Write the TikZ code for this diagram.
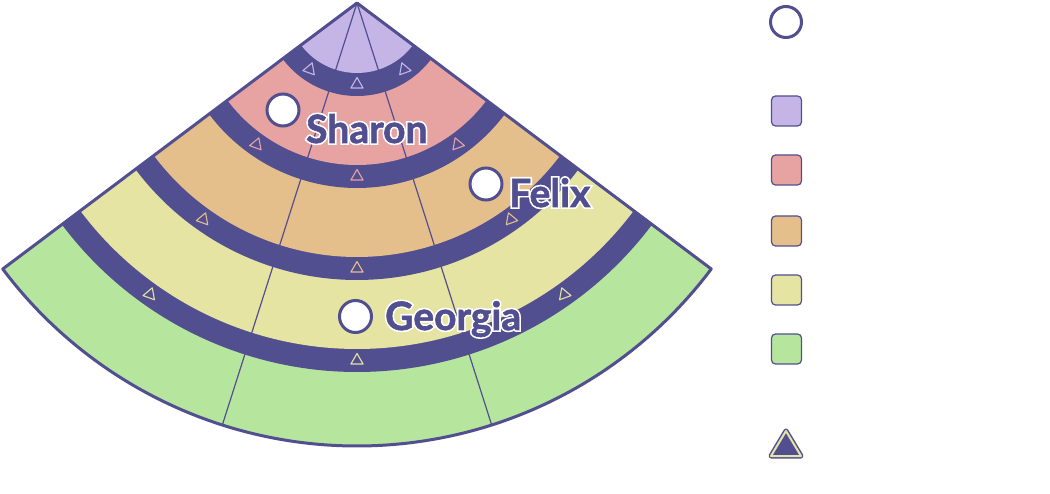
\documentclass[tikz,border=0pt]{standalone}
\usepackage{fontspec}
\setmainfont{Lato}
\newfontfamily\whoink{Lato}[BoldFeatures={FakeBold=1.5}]
\newfontfamily\whohalo{Lato}[BoldFeatures={FakeBold=10}]
\usepackage{tikz}
\usetikzlibrary{calc, positioning}
\definecolor{ink}{RGB}{82, 79, 145}
\definecolor{zoneA}{RGB}{197, 180, 230}
\definecolor{zoneB}{RGB}{230, 163, 162}
\definecolor{zoneC}{RGB}{229, 191, 139}
\definecolor{zoneD}{RGB}{229, 228, 163}
\definecolor{zoneE}{RGB}{182, 230, 158}

\tikzset{
  seat/.style={circle, draw=ink, line width=3pt, fill=white, minimum size=32pt, inner sep=0pt},
  who/.style={anchor=base west, inner sep=0pt, font=\fontsize{39}{41}\selectfont\bfseries},
  keybox/.style={draw=ink, line width=1.2pt, rounded corners=4pt, minimum size=30pt, inner sep=0pt},
  door/.style={line width=1.1pt, line join=round}
}
% white halo under the name
\newcommand{\whotext}[1]{{\whohalo\bfseries\color{white}\rlap{#1}}{\whoink\bfseries\color{ink}#1}}

\begin{document}
\begin{tikzpicture}[x=1pt, y=1pt]
  \useasboundingbox (0,0) rectangle (1050,493);
  \coordinate (apex) at (357,490);
  % zones, outermost first (rings are the dark slices)
  \foreach \r/\c in {443/zoneE, 369/ink, 346/zoneD, 277/ink, 254/zoneC, 185/ink, 162/zoneB, 93/ink, 70/zoneA}
    \fill[\c] (apex) -- ($(apex)+(-143.1:\r)$) arc[start angle=-143.1, end angle=-36.9, radius=\r] -- cycle;
  % dividers
  \draw[ink, line width=1.2pt] (apex) -- ($(apex)+(-107.7:443)$);
  \draw[ink, line width=1.2pt] (apex) -- ($(apex)+(-72.3:443)$);
  % doors on each ring
  \foreach \r/\c in {81.5/zoneA, 173.5/zoneB, 265.5/zoneC, 357.5/zoneD}{
    \draw[door, \c, shift={($(apex)+(-90:\r)$)}, rotate=90] (0:7) -- (120:7) -- (240:7) -- cycle;
    \draw[door, \c, shift={($(apex)+(-125.4:\r)$)}, rotate=190] (0:7) -- (120:7) -- (240:7) -- cycle;
    \draw[door, \c, shift={($(apex)+(-54.6:\r)$)}, rotate=-10] (0:7) -- (120:7) -- (240:7) -- cycle;
  }
  % outline
  \draw[ink, line width=3pt, line join=round] (apex) -- ($(apex)+(-143.1:443)$)
    arc[start angle=-143.1, end angle=-36.9, radius=443] -- cycle;
  % people
  \node[seat] (sharon) at (283,383) {};
  \node[seat] (felix) at (486,309) {};
  \node[seat] (georgia) at (355.5,176.5) {};
  \node[who] (sharonlbl) at (306,350) {\whotext{Sharon}};
  \node[who] (felixlbl) at (509,286) {\whotext{Felix}};
  \node[who] (georgialbl) at (385,163) {\whotext{Georgia}};
  % legend
  \node[seat, minimum size=31pt] (keyseat) at (786,471) {};
  \node[keybox, fill=zoneA] (keyA) at (786.5,382) {};
  \node[keybox, fill=zoneB] (keyB) at (786.5,323) {};
  \node[keybox, fill=zoneC] (keyC) at (786.5,262) {};
  \node[keybox, fill=zoneD] (keyD) at (786.5,203) {};
  \node[keybox, fill=zoneE] (keyE) at (786.5,144) {};
  \draw[ink, fill=ink, line width=5pt, line join=round] (786,62) -- (771,37) -- (801,37) -- cycle;
  \draw[zoneD, line width=2pt, line join=round] (786,62) -- (771,37) -- (801,37) -- cycle;
\end{tikzpicture}
\end{document}
